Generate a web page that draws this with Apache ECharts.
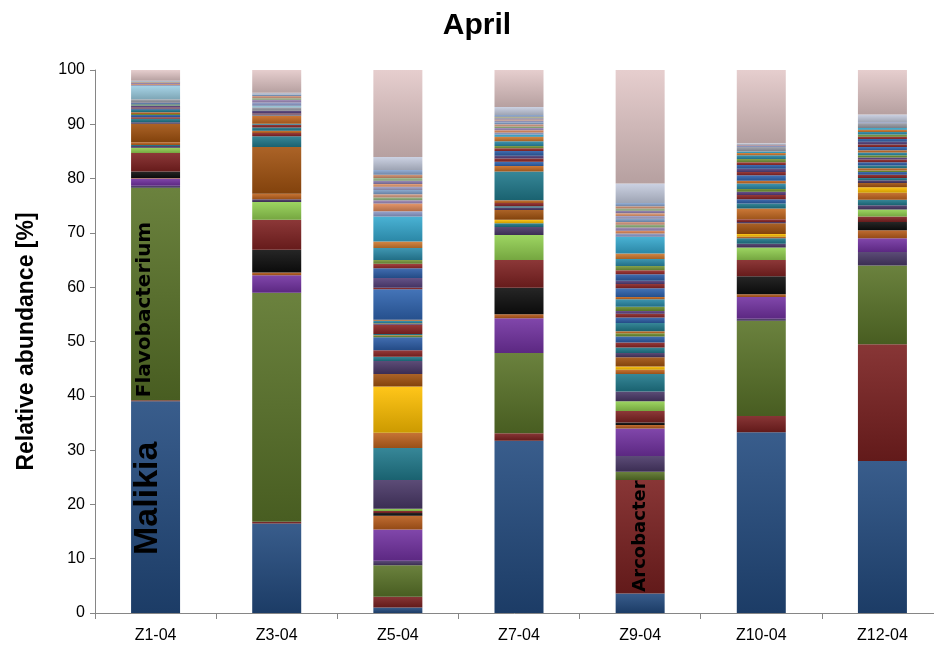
<!DOCTYPE html>
<html><head><meta charset="utf-8">
<script src="https://cdn.jsdelivr.net/npm/echarts@6/dist/echarts.min.js"></script>
<style>html,body{margin:0;padding:0;background:#fff}#c{width:934px;height:651px}</style>
</head><body><div id="c"></div>
<script>
// ---------- DATA ----------
const categories = ['Z1-04','Z3-04','Z5-04','Z7-04','Z9-04','Z10-04','Z12-04'];
const yMin = 0, yMax = 100, yStep = 10;

const taxa = ['Malikia','Arcobacter','Flavobacterium',
  'OTU 4','OTU 5','OTU 6','OTU 7','OTU 8','OTU 9','OTU 10',
  'OTU 11','OTU 12','OTU 13','OTU 14','OTU 15','OTU 16','OTU 17','OTU 18','OTU 19','OTU 20',
  'OTU 21','OTU 22','OTU 23','OTU 24','OTU 25','OTU 26','OTU 27','OTU 28','OTU 29','OTU 30',
  'OTU 31','OTU 32','OTU 33','OTU 34','OTU 35','OTU 36','OTU 37','OTU 38','OTU 39','OTU 40',
  'OTU 41','OTU 42','OTU 43','OTU 44','OTU 45','OTU 46','OTU 47','OTU 48','OTU 49','OTU 50',
  'OTU 51','Others'];

const taxonColors = ['#234b7f','#7b2020','#5a7429','#4a3868','#7332a2','#b95d1c','#0e0e0e','#7f2222','#92d050','#4a3868',
  '#217a8c','#c0641e','#ffc000','#a2520f','#4a3868','#217a8c','#8b2525','#2d5ea8','#6b8e2e','#c66a22',
  '#217a8c','#2d5ea8','#8b2525','#5a3f80','#6b8e2e','#2a8aa8','#c66a22','#2f64b0','#8b2525','#54407a',
  '#2d5ea8','#9a2c2c','#76963a','#2a8aa8','#d07a30','#36a9cf','#9a9ca6','#9ecfe3','#8f9ccb','#e08a5a',
  '#9d88b8','#8fb07a','#d29880','#7f9fc9','#a0a0c8','#e39a70','#8e7fb0','#9cb98a','#cf8f6e','#8aa6d0',
  '#c6cde0','#e3c8c8'];

// relative abundance [%] of each taxon (bottom to top) per sample
const z1_04  = [39.0,0.2,39.1,0.4,1.3,0.1,1.2,3.4,1.0,0.3, 0.2,0.5,0,3.4,0.3,0.6,0.3,0.4,0.2,0.3, 0.5,0.2,0.2,0.3,0.1,0.2,0.1,0.1,0,0.1, 0,0,0,0,0,0,0.6,2.5,0.2,0.1, 0.2,0.1,0.1,0.1,0,0,0,0,0,0, 0.1,2.0];
const z3_04  = [16.5,0.3,42.2,0,3.2,0.5,4.2,5.5,3.3,0.5, 0,1.0,0,8.6,0,2.0,0.6,0,0,0.4, 0.6,0,0.5,0,0,0.2,1.5,0.2,0.2,0.5, 0,0,0,0,0,0,0.6,0.3,0.6,0, 0.5,0.3,0.4,0.3,0,0,0,0,0,0, 0.3,4.2];
const z5_04  = [1.0,2.0,5.8,0.8,5.8,2.5,0.5,0.4,0.4,5.3, 5.9,2.8,8.5,2.3,2.4,0.8,1.2,2.4,0.3,0.1, 0.2,0,1.7,0.2,0.1,0.4,0.2,5.6,0.3,1.8, 1.8,0.8,0.7,2.2,1.2,4.6,0,0,1.0,1.4, 0.6,0.5,0.6,0.8,0.6,0.5,0.6,0.5,0.6,0.9, 2.4,16.0];
const z7_04  = [31.7,1.4,14.8,0,6.4,0.7,4.9,5.1,4.6,1.5, 0.7,0,0.6,1.8,0.5,0.2,0.6,0,0,0.5, 5.3,0,0,0,0,0,1.0,0.8,0.6,0.5, 0.9,0.5,0.4,0.9,0.8,0.4,0,0,0.4,0.4, 0.4,0.3,0.4,0.4,0.3,0.2,0.2,0.2,0.1,0.3, 1.5,6.8];
const z9_04  = [3.6,20.9,1.5,2.9,5.1,0.6,0.5,2.1,1.8,1.8, 3.2,0.8,0.6,1.7,0.8,1.0,0.9,1.1,0.6,0.4, 1.5,1.0,0.7,0.5,0.8,1.4,0.4,1.6,0.8,0.6, 1.2,0.7,0.8,1.3,1.0,3.1,0,0,0.6,0.5, 0.6,0.5,0.5,0.6,0.5,0.5,0.5,0.4,0.4,0.6, 3.6,20.9];
const z10_04 = [33.3,3.0,17.5,0.4,4.0,0.5,3.3,3.0,2.3,0.7, 1.0,0.3,0.5,2.0,0.2,0,0.5,0,0,2.0, 0.9,0.8,0.8,0.6,0.5,1.0,0.5,1.0,0.6,0.6, 0.7,0.5,0.6,0.7,0.4,0.3,0.8,0,0.2,0.1, 0.1,0,0,0,0,0,0,0,0,0, 0.3,13.5];
const z12_04 = [28.0,21.5,14.5,2.5,2.5,1.5,1.5,1.0,1.3,0.8, 1.0,1.3,1.0,0.8,0.5,0.4,0.6,0.5,0.3,0.4, 0.5,0.6,0.5,0.4,0.4,0.5,0.4,0.6,0.5,0.5, 0.5,0.4,0.4,0.5,0.4,0.3,0.9,0,0.2,0, 0,0,0,0,0,0,0,0,0,0, 1.4,8.2];
const samples = [z1_04, z3_04, z5_04, z7_04, z9_04, z10_04, z12_04];

// in-bar taxon labels: [taxon index, sample index, text]
const barLabels = [[0,0,'Malikia'],[2,0,'Flavobacterium'],[1,4,'Arcobacter']];

// ---------- STYLE ----------
function mix(hex, t){
  const n = parseInt(hex.slice(1),16);
  let r=(n>>16)&255,g=(n>>8)&255,b=n&255;
  if(t>0){r+= (255-r)*t; g+=(255-g)*t; b+=(255-b)*t;}
  else {r*=1+t; g*=1+t; b*=1+t;}
  return 'rgb('+Math.round(r)+','+Math.round(g)+','+Math.round(b)+')';
}
function grad(c){
  return new echarts.graphic.LinearGradient(0,0,0,1,[{offset:0,color:mix(c,0.1)},{offset:1,color:mix(c,-0.2)}]);
}
const labelStyles = {
  'Malikia':        {position:['34%','72.6%'], fontSize:34, fontWeight:'bold', fontFamily:'Liberation Sans'},
  'Flavobacterium': {position:['27%','98.6%'], fontSize:20, fontWeight:'bold', fontFamily:'DejaVu Sans'},
  'Arcobacter':     {position:['50%','98.4%'], fontSize:18, fontWeight:'bold', fontFamily:'DejaVu Sans'}
};

const series = taxa.map((name,i)=>({
  name, type:'bar', stack:'total', barWidth:49,
  itemStyle:{color:grad(taxonColors[i])},
  emphasis:{disabled:true},
  data: samples.map((s,j)=>{
    const lab = barLabels.find(l=>l[0]===i && l[1]===j);
    if(!lab) return s[i];
    const st = labelStyles[lab[2]];
    return {value:s[i], label:Object.assign({show:true, formatter:lab[2], rotate:90, align:'left', verticalAlign:'middle', color:'#000'}, st)};
  })
}));

const chart = echarts.init(document.getElementById('c'), null, {renderer:'canvas'});
chart.setOption({
  animation:false,
  backgroundColor:'#fff',
  title:{text:'April', left:472, top:6, textAlign:'center',
    textStyle:{fontSize:30, fontWeight:'bold', fontFamily:'Liberation Sans', color:'#000'}},
  grid:{left:95, right:-9, top:70, bottom:38, containLabel:false, outerBoundsMode:'none'},
  xAxis:{type:'category', data:categories,
    axisLine:{lineStyle:{color:'#868686', width:1}},
    axisTick:{show:true, alignWithLabel:false, length:6, lineStyle:{color:'#868686'}},
    axisLabel:{fontSize:16, fontFamily:'Liberation Sans', color:'#000', margin:15}},
  yAxis:{type:'value', min:yMin, max:yMax, interval:yStep,
    name:'Relative abundance [%]', nameLocation:'middle', nameGap:57,
    nameTextStyle:{fontSize:23, fontWeight:'bold', fontFamily:'Liberation Sans', color:'#000'},
    axisLine:{show:true, lineStyle:{color:'#868686', width:1}},
    axisTick:{show:true, length:5, lineStyle:{color:'#868686'}},
    splitLine:{show:false},
    axisLabel:{fontSize:16, fontFamily:'Liberation Sans', color:'#000', margin:10}},
  series
});
</script></body></html>
